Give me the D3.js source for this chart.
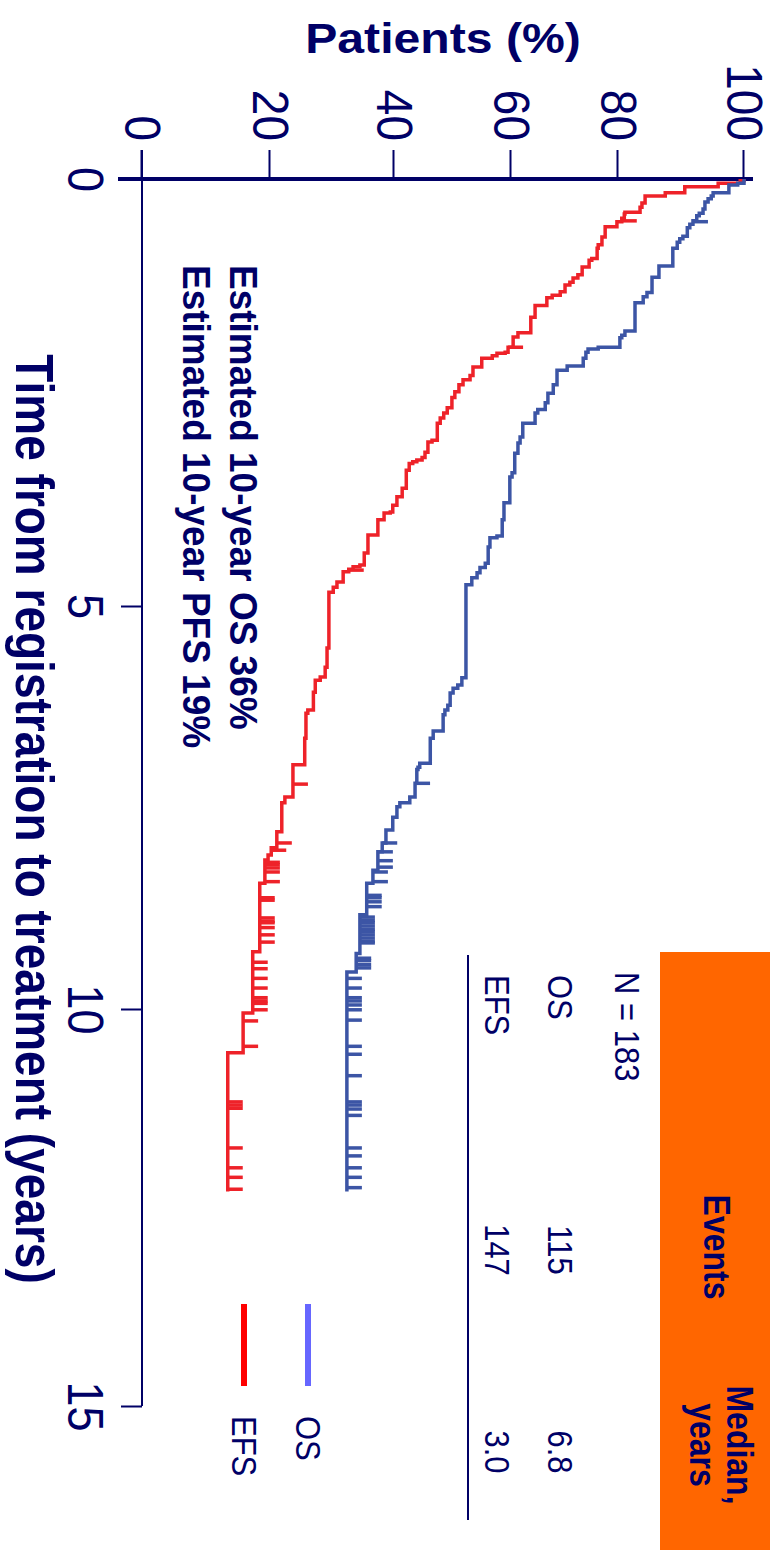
<!DOCTYPE html>
<html>
<head>
<meta charset="utf-8">
<script src="https://cdn.jsdelivr.net/npm/d3@7"></script>
<style>
  html, body { margin: 0; padding: 0; background: #ffffff; }
  svg { display: block; }
</style>
</head>
<body>
<svg id="chart" width="776" height="1550"></svg>
<script>
// ---- data -------------------------------------------------------------
const timeTicks = [0, 5, 10, 15];
const pctTicks = [0, 20, 40, 60, 80, 100];

// Kaplan-Meier steps: [years, % surviving after the event]
const osSteps = [
  [0.05, 99.0], [0.07, 97.6], [0.16, 95.1], [0.20, 94.8], [0.23, 94.3], [0.27, 93.8],
  [0.35, 93.5], [0.40, 92.9], [0.43, 92.5], [0.49, 91.9], [0.53, 91.4], [0.57, 91.0],
  [0.67, 90.3], [0.70, 89.8], [0.74, 89.4], [0.81, 88.7], [1.02, 86.5], [1.15, 85.4],
  [1.33, 84.6], [1.38, 84.0], [1.45, 82.7], [1.78, 81.1], [1.83, 80.6], [1.86, 80.3],
  [1.97, 76.3], [1.99, 74.4], [2.03, 74.0], [2.10, 73.5], [2.19, 70.5], [2.24, 68.6],
  [2.41, 67.9], [2.51, 66.9], [2.62, 66.4], [2.70, 65.0], [2.74, 64.5], [2.86, 62.2],
  [3.02, 61.7], [3.09, 61.3], [3.21, 60.7], [3.44, 60.2], [3.49, 59.8], [3.79, 58.8],
  [3.99, 58.5], [4.18, 57.6], [4.20, 56.4], [4.31, 56.1], [4.50, 55.6], [4.55, 54.7],
  [4.61, 54.2], [4.67, 53.3], [4.75, 52.3], [5.89, 51.6], [5.98, 50.9], [6.02, 50.1],
  [6.08, 49.6], [6.23, 49.2], [6.29, 48.7], [6.35, 48.4], [6.55, 46.7], [6.64, 46.2],
  [6.95, 44.4], [7.00, 44.1], [7.03, 43.9], [7.20, 43.6], [7.37, 42.7], [7.44, 41.0],
  [7.49, 40.5], [7.62, 39.8], [7.78, 38.7], [7.94, 38.1], [8.05, 37.4], [8.28, 36.6],
  [8.44, 35.6], [8.83, 34.5], [9.31, 33.9], [9.54, 32.4]
];
const osCensored = [
  0.50, 7.20, 7.94, 8.05, 8.16, 8.24, 8.30, 8.42, 8.59, 8.62, 8.67, 8.73,
  8.86, 8.90, 8.93, 8.97, 9.01, 9.04, 9.08, 9.12, 9.16, 9.18, 9.37, 9.40,
  9.45, 9.49, 9.62, 9.74, 9.86, 9.90, 9.95, 10.01, 10.14, 10.47, 10.57, 10.84,
  11.17, 11.21, 11.26, 11.34, 11.75, 11.85, 12.00, 12.12, 12.25
];

const efsSteps = [
  [0.02, 99.4], [0.05, 95.9], [0.09, 90.6], [0.16, 87.5], [0.20, 84.3], [0.28, 83.8],
  [0.33, 83.5], [0.39, 81.1], [0.41, 81.0], [0.46, 80.6], [0.50, 79.8], [0.56, 77.6],
  [0.68, 77.0], [0.77, 76.3], [0.81, 76.1], [0.93, 75.1], [0.95, 74.6], [1.03, 73.3],
  [1.12, 72.5], [1.16, 71.6], [1.21, 71.0], [1.24, 70.1], [1.32, 69.2], [1.36, 67.7],
  [1.39, 66.7], [1.48, 64.5], [1.62, 63.7], [1.80, 61.3], [1.85, 60.4], [1.97, 59.5],
  [2.03, 59.0], [2.04, 57.6], [2.07, 56.8], [2.10, 55.0], [2.20, 53.5], [2.30, 53.0],
  [2.35, 51.8], [2.41, 51.1], [2.49, 50.4], [2.56, 49.9], [2.68, 49.1], [2.74, 48.5],
  [2.80, 47.9], [2.86, 47.4], [3.06, 46.5], [3.08, 45.8], [3.20, 45.3], [3.26, 44.8],
  [3.29, 43.9], [3.31, 43.2], [3.33, 42.6], [3.41, 42.1], [3.62, 41.4], [3.72, 40.5],
  [3.82, 39.8], [3.90, 39.4], [3.91, 38.4], [3.99, 37.4], [4.17, 35.8], [4.38, 35.2],
  [4.52, 34.5], [4.54, 33.4], [4.57, 32.7], [4.60, 31.8], [4.72, 30.8], [4.78, 30.2],
  [4.84, 29.5], [5.52, 29.2], [5.76, 28.9], [5.88, 28.1], [5.92, 27.3], [6.07, 27.0],
  [6.29, 26.1], [6.33, 25.8], [6.64, 25.6], [6.97, 23.7], [7.37, 22.4], [7.44, 21.9],
  [7.80, 21.1], [8.00, 20.2], [8.09, 19.7], [8.15, 19.2], [8.44, 18.4], [9.29, 17.3],
  [10.05, 15.8], [10.55, 13.4]
];
const efsCensored = [
  0.49, 1.97, 4.58, 7.21, 7.94, 8.03, 8.18, 8.21, 8.25, 8.30, 8.42, 8.62,
  8.65, 8.87, 8.91, 8.93, 8.99, 9.08, 9.17, 9.42, 9.50, 9.62, 9.74, 9.86,
  9.90, 9.93, 10.01, 10.15, 10.47, 11.17, 11.21, 11.25, 11.75, 12.00, 12.12, 12.27
];
const lastFollowUp = 12.3;

// summary table
const nPatients = 183;
const rowLabels = ["OS", "EFS"];
const rowEvents = [115, 147];
const rowMedians = ["6.8", "3.0"];
const estimateNotes = ["Estimated 10-year OS 36%", "Estimated 10-year PFS 19%"];

// ---- styling --------------------------------------------------------------
const NAVY = "#000066";
const OS_COLOR = "#3c55a5";
const EFS_COLOR = "#ee2229";
const OS_KEY = "#6666ff";
const EFS_KEY = "#ff0000";
const ORANGE = "#ff6600";
const FONT = "'Liberation Sans', Arial, Helvetica, sans-serif";
const STRETCH = 1.12;   // glyphs are drawn a little taller than wide

// ---- layout: chart is laid out landscape and turned a quarter clockwise ---
const svg = d3.select("#chart");
const g = svg.append("g").attr("transform", "translate(776,0) rotate(90)");

const x = d3.scaleLinear().domain(timeTicks).range([179, 606, 1009, 1406]);
const y = d3.scaleLinear().domain(pctTicks).range([634, 506, 382, 265, 158, 32]);

function label(parent, txt, px, py, opts) {
  const o = Object.assign({ size: 32, weight: "normal", anchor: "start", rotate: 0, stretch: STRETCH }, opts || {});
  const tr = o.rotate
    ? `translate(${px},${py}) rotate(${o.rotate}) scale(${o.stretch},1)`
    : `translate(${px},${py}) scale(1,${o.stretch})`;
  return parent.append("text")
    .attr("transform", tr)
    .attr("text-anchor", o.anchor)
    .attr("font-family", FONT)
    .attr("font-size", o.size)
    .attr("font-weight", o.weight)
    .attr("fill", NAVY)
    .text(txt);
}

// axes
const yAxis = g.append("g")
  .attr("transform", "translate(179,0)")
  .call(d3.axisLeft(y).tickValues(pctTicks).tickSize(29).tickPadding(9).tickFormat(d3.format("d")));
yAxis.select(".domain").remove();
yAxis.selectAll(".tick line").attr("stroke", NAVY).attr("stroke-width", 2);
yAxis.selectAll(".tick text")
  .attr("fill", NAVY).attr("font-family", FONT).attr("font-size", 46)
  .attr("dy", "0.34em").attr("transform", "scale(1,1.08)");

const xAxis = g.append("g")
  .attr("transform", "translate(0,634)")
  .call(d3.axisBottom(x).tickValues(timeTicks).tickSize(21).tickFormat(d3.format("d")));
xAxis.select(".domain").remove();
xAxis.selectAll(".tick line").attr("stroke", NAVY).attr("stroke-width", 2);
xAxis.selectAll(".tick text")
  .attr("fill", NAVY).attr("font-family", FONT).attr("font-size", 45)
  .attr("y", 74 / 1.1).attr("dy", 0).attr("transform", "scale(1,1.1)");

// axis lines
g.append("line")
  .attr("x1", 179).attr("x2", 179)
  .attr("y1", y(100) - 9).attr("y2", 658)
  .attr("stroke", NAVY).attr("stroke-width", 4);
g.append("line")
  .attr("x1", 150).attr("x2", x(15))
  .attr("y1", y(0)).attr("y2", y(0))
  .attr("stroke", NAVY).attr("stroke-width", 2);

// axis titles
label(g, "Patients (%)", 53, 333, { size: 43, weight: "bold", anchor: "middle", rotate: -90 });
label(g, "Time from registration to treatment (years)", 819, 760, { size: 46, weight: "bold", anchor: "middle", stretch: 1.15 });

// survival curves
function curvePoints(steps) {
  const pts = [[0, 100]].concat(steps);
  pts.push([lastFollowUp, steps[steps.length - 1][1]]);
  return pts;
}
function survivalAt(steps, t) {
  const i = d3.bisectRight(steps.map(s => s[0]), t);
  return i === 0 ? 100 : steps[i - 1][1];
}
const line = d3.line().x(d => x(d[0])).y(d => y(d[1])).curve(d3.curveStepAfter);

[
  { steps: efsSteps, cens: efsCensored, color: EFS_COLOR },
  { steps: osSteps, cens: osCensored, color: OS_COLOR }
].forEach(s => {
  g.append("path")
    .attr("d", line(curvePoints(s.steps)))
    .attr("fill", "none")
    .attr("stroke", s.color)
    .attr("stroke-width", 3.5)
    .attr("stroke-linejoin", "miter");
  g.append("g").selectAll("line").data(s.cens).join("line")
    .attr("x1", d => x(d)).attr("x2", d => x(d))
    .attr("y1", d => y(survivalAt(s.steps, d)))
    .attr("y2", d => y(survivalAt(s.steps, d)) - 15)
    .attr("stroke", s.color)
    .attr("stroke-width", 3.5);
});

// 10-year estimates
label(g, estimateNotes[0], 265, 546, { size: 37, weight: "bold", stretch: 1.05 });
label(g, estimateNotes[1], 265, 593, { size: 37, weight: "bold", stretch: 1.05 });

// summary table
g.append("rect")
  .attr("x", 952).attr("y", 6).attr("width", 598).attr("height", 110)
  .attr("fill", ORANGE);
label(g, "Events", 1247, 72, { size: 32, weight: "bold", anchor: "middle", stretch: 1.15 });
label(g, "Median,", 1445, 49, { size: 32, weight: "bold", anchor: "middle", stretch: 1.15 });
label(g, "years", 1445, 86, { size: 32, weight: "bold", anchor: "middle", stretch: 1.15 });
label(g, `N = ${nPatients}`, 972, 161, { size: 31, stretch: 1.15 });
const rowBase = [228, 291];
rowLabels.forEach((r, i) => {
  label(g, r, 975, rowBase[i], { size: 31, stretch: 1.15 });
  label(g, String(rowEvents[i]), 1250, rowBase[i], { size: 31, anchor: "middle", stretch: 1.15 });
  label(g, rowMedians[i], 1452, rowBase[i], { size: 31, anchor: "middle", stretch: 1.15 });
});
g.append("line")
  .attr("x1", 955).attr("x2", 1520).attr("y1", 308).attr("y2", 308)
  .attr("stroke", NAVY).attr("stroke-width", 2);

// key
const keyY = [468, 532];
const keyColors = [OS_KEY, EFS_KEY];
rowLabels.forEach((r, i) => {
  g.append("line")
    .attr("x1", 1304).attr("x2", 1386).attr("y1", keyY[i]).attr("y2", keyY[i])
    .attr("stroke", keyColors[i]).attr("stroke-width", 6);
  label(g, r, 1416, keyY[i] + 12, { size: 31, stretch: 1.15 });
});
</script>
</body>
</html>
